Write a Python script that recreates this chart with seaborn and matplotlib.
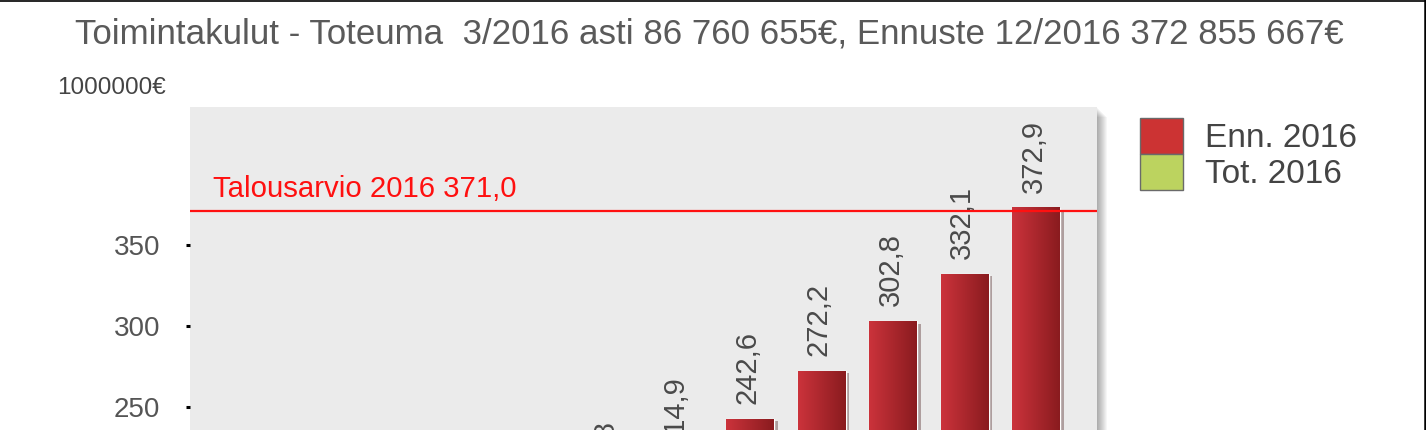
import numpy as np
import pandas as pd
import matplotlib
matplotlib.use("Agg")
import matplotlib.pyplot as plt
import matplotlib.patheffects as pe
from matplotlib.colors import LinearSegmentedColormap
from matplotlib.patches import Patch, Rectangle
import seaborn as sns

# data (cumulative, million €); months 1-4 fall below the visible crop, so they are estimates
months = ["1", "2", "3", "4", "5", "6", "7", "8", "9", "10", "11", "12"]
values = [28.4, 57.2, 86.8, 131.5, 158.6, 187.8, 214.9, 242.6, 272.2, 302.8, 332.1, 372.9]
series = ["Tot. 2016"] * 3 + ["Enn. 2016"] * 9
budget = 371.0
budget_label = "Talousarvio 2016 371,0"
title = "Toimintakulut - Toteuma  3/2016 asti 86 760 655€, Ennuste 12/2016 372 855 667€"
unit_label = "1000000€"
legend_labels = ["Enn. 2016", "Tot. 2016"]
colors = {"Enn. 2016": "#cc3333", "Tot. 2016": "#bcd35f"}

df = pd.DataFrame({"month": months, "value": values, "series": series})

sns.set_style("white")
plt.rcParams["font.family"] = ["Liberation Sans", "DejaVu Sans"]

W, H = 1426, 430
fig = plt.figure(figsize=(W / 100, H / 100), dpi=100)
renderer = fig.canvas.get_renderer()


def px(x0, y0, w, h):
    return [x0 / W, 1 - (y0 + h) / H, w / W, h / H]


def fit_width(t, target):
    # scale the font so the text spans the same width as in the reference
    w = t.get_window_extent(renderer).width
    t.set_fontsize(t.get_fontsize() * target / w)


# the axes run past the bottom edge: the reference is a crop of a taller chart
ax = fig.add_axes(px(190, 107, 907, 705))
ax.set_facecolor("#ebebeb")

# soft shadow behind the plot area
for i in range(10):
    fig.patches.append(Rectangle((190 / W + (i + 1) / W, -1), 907 / W, 1 - 107 / H + 1 - (i + 1) / H,
                                 transform=fig.transFigure, facecolor="black",
                                 alpha=0.035, edgecolor="none", zorder=-1))

sns.barplot(data=df, x="month", y="value", hue="series", palette=colors,
            dodge=False, width=0.67, ax=ax, legend=False, saturation=1)

grad_red = LinearSegmentedColormap.from_list("r", ["#cb333b", "#8a1b1f"])
grad_green = LinearSegmentedColormap.from_list("g", ["#c8dc6e", "#9fb44a"])
grad = np.linspace(0, 1, 64).reshape(1, -1)
for p, s in zip(ax.patches, df["series"]):
    p.set_path_effects([pe.SimplePatchShadow(offset=(2.5, -1.5), alpha=0.35), pe.Normal()])
    x, y, w, h = p.get_x(), p.get_y(), p.get_width(), p.get_height()
    cm = grad_red if s == "Enn. 2016" else grad_green
    ax.imshow(grad, extent=[x, x + w, y, y + h], cmap=cm, aspect="auto",
              clip_path=p, zorder=p.get_zorder() + 0.1, interpolation="bilinear")
    ax.annotate(f"{y + h:.1f}".replace(".", ","), (x + w / 2, y + h),
                xytext=(-2, 11), textcoords="offset points", rotation=90,
                ha="center", va="bottom", fontsize=21, color="#4a4a4a")

ax.axhline(budget, color="#ff1010", lw=1.6, zorder=5)
bt = ax.text(-0.51, budget + 5, budget_label, color="#ff1010", fontsize=19,
             ha="left", va="bottom")
fit_width(bt, 304)

ax.set_xlim(-0.832, 11.85)
ax.set_ylim(0, 435.2)
ax.set_yticks([0, 50, 100, 150, 200, 250, 300, 350])
ax.set_xlabel("")
ax.set_ylabel("")
ax.tick_params(axis="y", left=True, length=3, width=2.2, color="black",
               pad=18.5, labelsize=20, labelcolor="#555555")
ax.tick_params(axis="x", bottom=False, labelsize=16, labelcolor="#555555")
for sp in ax.spines.values():
    sp.set_visible(False)

tt = fig.text(75 / W, 1 - 34 / H, title, fontsize=20, color="#5a5a5a", ha="left", va="center")
fit_width(tt, 1268)
fig.text(57 / W, 1 - 88 / H, unit_label, fontsize=17.5, color="#444444", ha="left", va="center")

fs = 24
fs_px = fs * 100 / 72
handles = [Patch(facecolor=colors[l], edgecolor="#6a6a6a", linewidth=1) for l in legend_labels]
fig.legend(handles, legend_labels, loc="upper left",
           bbox_to_anchor=(1140 / W, 1 - 118 / H), bbox_transform=fig.transFigure,
           frameon=False, borderpad=0, borderaxespad=0, fontsize=fs,
           handlelength=43 / fs_px, handleheight=43 / fs_px,
           handletextpad=22 / fs_px, labelspacing=0, labelcolor="#444444")

# image border (top and right)
fig.add_artist(plt.Line2D([0, 1], [1 - 0.5 / H, 1 - 0.5 / H], transform=fig.transFigure, color="black", lw=1.2))
fig.add_artist(plt.Line2D([1 - 1.2 / W, 1 - 1.2 / W], [0, 1], transform=fig.transFigure, color="black", lw=1.8))

fig.savefig("out.png", dpi=100)
